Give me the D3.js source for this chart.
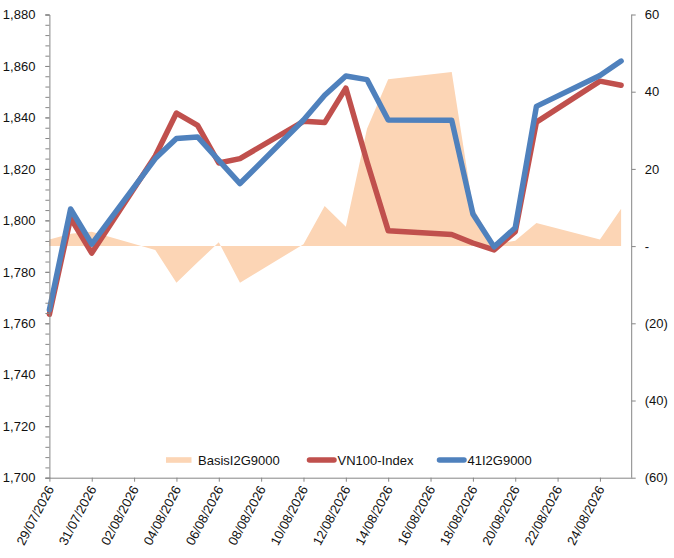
<!DOCTYPE html>
<html>
<head>
<meta charset="utf-8">
<script src="https://cdn.jsdelivr.net/npm/d3@7"></script>
<style>
  body { margin: 0; background: #fff; }
  text { font-family: "Liberation Sans", Arial, sans-serif; fill: #111; }
</style>
</head>
<body>
<script>
const W = 674, H = 558;
const plot = {left: 49.4, right: 631.7, top: 14.5, bottom: 477.7};

// trading days
const dates = ["29/07/2026","30/07/2026","31/07/2026","03/08/2026","04/08/2026","05/08/2026","06/08/2026","07/08/2026",
               "10/08/2026","11/08/2026","12/08/2026","13/08/2026","14/08/2026","17/08/2026","18/08/2026","19/08/2026",
               "20/08/2026","21/08/2026","24/08/2026","25/08/2026"];
const vn100 = [1763.5, 1800.9, 1787.3, 1825.0, 1841.7, 1836.9, 1822.3, 1824.0, 1838.5, 1838.0,
               1851.4, 1822.8, 1796.0, 1794.5, 1791.2, 1788.5, 1795.6, 1838.2, 1854.1, 1852.5];
const fut41 = [1765.2, 1804.4, 1790.8, 1824.0, 1831.8, 1832.4, 1823.3, 1814.3, 1839.0, 1848.6,
               1856.1, 1854.7, 1839.0, 1838.9, 1802.5, 1789.7, 1797.1, 1844.3, 1856.3, 1861.9];
const basis = [1.7, 3.2, 3.7, -1.0, -9.5, -4.2, 1.0, -9.5, 0.5, 10.4,
               5.0, 30.4, 43.2, 45.1, 10.0, 0.5, 1.4, 6.0, 1.7, 9.7];

const xTickLabels = ["29/07/2026","31/07/2026","02/08/2026","04/08/2026","06/08/2026","08/08/2026","10/08/2026",
                     "12/08/2026","14/08/2026","16/08/2026","18/08/2026","20/08/2026","22/08/2026","24/08/2026"];
const leftTicks = [1700, 1720, 1740, 1760, 1780, 1800, 1820, 1840, 1860, 1880];
const rightTicks = [-60, -40, -20, 0, 20, 40, 60];
const seriesNames = ["BasisI2G9000", "VN100-Index", "41I2G9000"];
const seriesColors = ["#FCD5B5", "#C0504D", "#4F81BD"];

const parseDate = d3.utcParse("%d/%m/%Y");
const rows = dates.map((d, i) => ({date: parseDate(d), vn: vn100[i], fut: fut41[i], basis: basis[i]}));

const svg = d3.select('body')
              .append('svg')
              .attr('width', W)
              .attr('height', H);

const start = parseDate("29/07/2026");
const end = d3.utcHour.offset(parseDate("25/08/2026"), 12.5);

const x = d3.scaleUtc().domain([start, end]).range([plot.left, plot.right]);
const yL = d3.scaleLinear().domain([1700, 1880]).range([plot.bottom, plot.top]);
const yR = d3.scaleLinear().domain([-60, 60]).range([plot.bottom, plot.top]);

// basis area (right axis)
const area = d3.area()
               .x(d => x(d.date))
               .y0(yR(0))
               .y1(d => yR(d.basis));

svg.append('path')
   .datum(rows)
   .attr('d', area)
   .attr('fill', seriesColors[0]);

// index + futures lines
const lineVN = d3.line().x(d => x(d.date)).y(d => yL(d.vn));
const lineFut = d3.line().x(d => x(d.date)).y(d => yL(d.fut));

svg.append('path')
   .datum(rows)
   .attr('d', lineVN)
   .attr('fill', 'none')
   .attr('stroke', seriesColors[1])
   .attr('stroke-width', 5.5)
   .attr('stroke-linejoin', 'round')
   .attr('stroke-linecap', 'round');

svg.append('path')
   .datum(rows)
   .attr('d', lineFut)
   .attr('fill', 'none')
   .attr('stroke', seriesColors[2])
   .attr('stroke-width', 5.5)
   .attr('stroke-linejoin', 'round')
   .attr('stroke-linecap', 'round');

// left axis, minor ticks every 4
const gMinor = svg.append('g')
                  .attr('transform', 'translate(' + plot.left + ',0)')
                  .call(d3.axisLeft(yL).tickValues(d3.range(1700, 1881, 4)).tickSize(4).tickFormat(''));
const gLeft = svg.append('g')
                 .attr('transform', 'translate(' + plot.left + ',0)')
                 .call(d3.axisLeft(yL).tickValues(leftTicks).tickSize(4).tickPadding(10).tickFormat(d3.format(',')));

// right axis
const fmtRight = function(v){
    if (v == 0) return '-';
    if (v < 0) return '(' + Math.abs(v) + ')';
    return v;
};
const gRight = svg.append('g')
                  .attr('transform', 'translate(' + plot.right + ',0)')
                  .call(d3.axisRight(yR).tickValues(rightTicks).tickSize(4).tickPadding(9).tickFormat(fmtRight));

// bottom axis
const gBottom = svg.append('g')
                   .attr('transform', 'translate(0,' + plot.bottom + ')')
                   .call(d3.axisBottom(x).tickValues(xTickLabels.map(parseDate)).tickSize(4).tickSizeOuter(0).tickFormat(d3.utcFormat("%d/%m/%Y")));

gBottom.selectAll('text')
       .attr('text-anchor', 'end')
       .attr('transform', 'translate(0.5,9) rotate(-62)')
       .attr('x', 0)
       .attr('y', 0)
       .attr('dy', '0.35em');

[gMinor, gLeft, gRight, gBottom].forEach(function(g){
    g.select('.domain').attr('stroke', '#868686');
    g.selectAll('.tick line').attr('stroke', '#868686');
    g.selectAll('text').attr('font-size', '13px').attr('fill', '#111');
});
gLeft.select('.domain').remove();
gRight.select('.domain').attr('d', 'M0,' + plot.top + 'V' + plot.bottom);

// legend
const legendX = [166, 307, 437];
const legend = svg.append('g').attr('class', 'legend');
legend.append('rect')
      .attr('x', legendX[0]).attr('y', 457.2)
      .attr('width', 25.5).attr('height', 5.6)
      .attr('fill', seriesColors[0]);
[1, 2].forEach(function(i){
    legend.append('line')
          .attr('x1', legendX[i] + 2.5).attr('x2', legendX[i] + 27)
          .attr('y1', 460).attr('y2', 460)
          .attr('stroke', seriesColors[i])
          .attr('stroke-width', 5.5)
          .attr('stroke-linecap', 'round');
});
legend.selectAll('text.lbl')
      .data(seriesNames)
      .join('text')
      .attr('class', 'lbl')
      .attr('x', (d, i) => legendX[i] + (i == 0 ? 32 : 30.5))
      .attr('y', 460)
      .attr('dy', '0.35em')
      .attr('font-size', '13px')
      .text(d => d);
</script>
</body>
</html>
